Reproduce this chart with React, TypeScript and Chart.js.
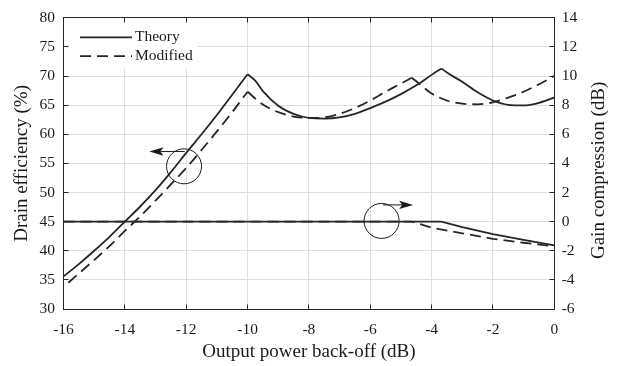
import React, { useEffect, useRef } from "react";
import { Chart, registerables } from "chart.js";

Chart.register(...registerables);

// ---------- data ----------
const xTitle = "Output power back-off (dB)";
const yTitle = "Drain efficiency (%)";
const y2Title = "Gain compression (dB)";
const legendLabels = ["Theory", "Modified"];

const xRange = [-16, 0, 2];
const effRange = [30, 80, 5];
const gainRange = [-6, 14, 2];

const effTheoryX = [-16, -15.5, -15, -14.5, -14, -13.5, -13, -12.5, -12, -11.5, -11, -10.5, -10, -9.75, -9.5, -9, -8.5, -8, -7.5, -7, -6.5, -6, -5.5, -5, -4.5, -4, -3.68, -3.5, -3, -2.5, -2, -1.5, -1, -0.5, 0];
const effTheoryY = [35.6, 37.7, 40.0, 42.4, 45.0, 47.6, 50.4, 53.5, 56.8, 60.0, 63.3, 66.8, 70.3, 69.2, 67.4, 64.9, 63.5, 62.8, 62.7, 62.9, 63.5, 64.5, 65.6, 66.9, 68.4, 70.2, 71.3, 70.6, 69.0, 67.2, 65.8, 65.05, 64.95, 65.4, 66.3];
const effTheoryPeaks = [-10, -3.68];

const effModX = [-15.84, -15.5, -15, -14.5, -14, -13.5, -13, -12.5, -12, -11.5, -11, -10.5, -10, -9.5, -9, -8.5, -8, -7.5, -7, -6.5, -6, -5.5, -5, -4.65, -4.5, -4, -3.5, -3, -2.5, -2, -1.5, -1, -0.5, 0];
const effModY = [34.5, 36.1, 38.4, 40.8, 43.4, 45.9, 48.6, 51.4, 54.2, 57.3, 60.5, 63.8, 67.3, 65.1, 63.8, 63.05, 62.8, 62.9, 63.5, 64.5, 65.8, 67.3, 68.7, 69.7, 69.1, 67.0, 65.8, 65.25, 65.15, 65.5, 66.3, 67.3, 68.6, 70.0];
const effModPeaks = [-10, -4.65];

const gainTheoryX = [-16, -3.68, -3, -2, -1, 0];
const gainTheoryY = [0, 0, -0.37, -0.85, -1.25, -1.63];

const gainModX = [-16, -4.65, -4, -3, -2, -1, 0];
const gainModY = [0, 0, -0.41, -0.8, -1.18, -1.45, -1.7];

// annotation marks (circle + arrow), in data coordinates
const noteAxis = ["y", "y2"];
const noteCircleX = [-12.07, -5.63];
const noteCircleY = [54.5, 0.05];
const noteArrowFromX = [-12.05, -5.58];
const noteArrowToX = [-13.2, -4.6];
const noteArrowY = [57.05, 1.15];

// ---------- styles ----------
const FONT = "'Liberation Serif', 'Times New Roman', serif";
const INK = "#262626";
const TEXT = "#1a1a1a";
const GRID = "#dedede";
const DASH = [11, 6];

const pts = (xs: number[], ys: number[]) => xs.map((x, i) => ({ x, y: ys[i] }));
// split a curve at its sharp peaks so each smooth piece can be interpolated on its own
const pieces = (xs: number[], ys: number[], breaks: number[]) => {
  const out: { x: number; y: number }[][] = [];
  let cur: { x: number; y: number }[] = [];
  xs.forEach((x, i) => {
    cur.push({ x, y: ys[i] });
    if (breaks.includes(x)) {
      out.push(cur);
      cur = [{ x, y: ys[i] }];
    }
  });
  out.push(cur);
  return out;
};
const range = (r: number[]) => {
  const out: number[] = [];
  for (let v = r[0]; v <= r[1] + 1e-9; v += r[2]) out.push(v);
  return out;
};
const crisp = (v: number) => Math.round(v - 0.5) + 0.5;

const framePlugin = {
  id: "frame",
  afterDatasetsDraw(chart: any) {
    const { ctx, chartArea: ca, scales } = chart;
    const sx = scales.x;
    const sy = scales.y;
    const sy2 = scales.y2;
    ctx.save();

    // legend
    ctx.fillStyle = "#fff";
    ctx.fillRect(ca.left + 1, ca.top + 1, 133, 50);
    ctx.strokeStyle = INK;
    ctx.lineWidth = 1.8;
    const legY = [ca.top + 19.5, ca.top + 38.3];
    legendLabels.forEach((label, i) => {
      ctx.setLineDash(i === 0 ? [] : DASH);
      ctx.beginPath();
      ctx.moveTo(ca.left + 16.5, legY[i]);
      ctx.lineTo(ca.left + 68.5, legY[i]);
      ctx.stroke();
      ctx.setLineDash([]);
      ctx.fillStyle = TEXT;
      ctx.font = `15.5px ${FONT}`;
      ctx.textBaseline = "middle";
      ctx.textAlign = "left";
      ctx.fillText(label, ca.left + 71.5, legY[i]);
    });

    // frame
    ctx.setLineDash([]);
    ctx.strokeStyle = INK;
    ctx.lineWidth = 1;
    const L = crisp(ca.left), R = crisp(ca.right), T = crisp(ca.top), B = crisp(ca.bottom);
    ctx.strokeRect(L, T, R - L, B - T);

    // inward ticks
    const tl = 5;
    ctx.beginPath();
    range(xRange).forEach((v) => {
      const p = crisp(sx.getPixelForValue(v));
      ctx.moveTo(p, B); ctx.lineTo(p, B - tl);
      ctx.moveTo(p, T); ctx.lineTo(p, T + tl);
    });
    range(effRange).forEach((v) => {
      const p = crisp(sy.getPixelForValue(v));
      ctx.moveTo(L, p); ctx.lineTo(L + tl, p);
    });
    range(gainRange).forEach((v) => {
      const p = crisp(sy2.getPixelForValue(v));
      ctx.moveTo(R, p); ctx.lineTo(R - tl, p);
    });
    ctx.stroke();

    // annotations
    ctx.strokeStyle = TEXT;
    ctx.fillStyle = TEXT;
    ctx.lineWidth = 1;
    noteAxis.forEach((ax, i) => {
      const scale = scales[ax];
      const cx = sx.getPixelForValue(noteCircleX[i]);
      const cy = scale.getPixelForValue(noteCircleY[i]);
      ctx.beginPath();
      ctx.arc(cx, cy, 17.5, 0, Math.PI * 2);
      ctx.stroke();
      const fx = sx.getPixelForValue(noteArrowFromX[i]);
      const tx = sx.getPixelForValue(noteArrowToX[i]);
      const ay = scale.getPixelForValue(noteArrowY[i]);
      const dir = tx > fx ? 1 : -1;
      const len = 14, hw = 4.2, notch = 3;
      ctx.beginPath();
      ctx.moveTo(fx, ay);
      ctx.lineTo(tx - dir * (len - notch), ay);
      ctx.stroke();
      ctx.beginPath();
      ctx.moveTo(tx, ay);
      ctx.lineTo(tx - dir * len, ay - hw);
      ctx.lineTo(tx - dir * (len - notch), ay);
      ctx.lineTo(tx - dir * len, ay + hw);
      ctx.closePath();
      ctx.fill();
    });

    // right axis title, reading bottom-to-top
    ctx.translate(599.5, (ca.top + ca.bottom) / 2 + 7);
    ctx.rotate(-Math.PI / 2);
    ctx.font = `19px ${FONT}`;
    ctx.fillStyle = TEXT;
    ctx.textAlign = "center";
    ctx.textBaseline = "middle";
    ctx.fillText(y2Title, 0, 0);

    ctx.restore();
  },
};

export default function App() {
  const ref = useRef<HTMLCanvasElement | null>(null);

  useEffect(() => {
    if (!ref.current) return;
    const lineBase = {
      borderColor: INK,
      borderWidth: 1.8,
      pointRadius: 0,
      fill: false,
      tension: 0,
    };
    const smooth = { cubicInterpolationMode: "monotone" };
    const tickFont = { family: FONT, size: 15.5 };
    const titleFont = { family: FONT, size: 19 };
    const datasets: any[] = [];
    pieces(effTheoryX, effTheoryY, effTheoryPeaks).forEach((d, k) =>
      datasets.push({ ...lineBase, ...smooth, label: `Theory ${k}`, data: d, yAxisID: "y" })
    );
    datasets.push({ ...lineBase, label: "Theory gain", data: pts(gainTheoryX, gainTheoryY), yAxisID: "y2" });
    pieces(effModX, effModY, effModPeaks).forEach((d, k) =>
      datasets.push({ ...lineBase, ...smooth, label: `Modified ${k}`, data: d, yAxisID: "y", borderDash: DASH })
    );
    datasets.push({ ...lineBase, label: "Modified gain", data: pts(gainModX, gainModY), yAxisID: "y2", borderDash: DASH });

    const chart = new Chart(ref.current, {
      type: "line",
      data: { datasets },
      options: {
        responsive: false,
        devicePixelRatio: 1,
        animation: false,
        layout: { padding: { top: 7.3, left: 0, right: 0, bottom: 0 } },
        plugins: { legend: { display: false }, tooltip: { enabled: false } },
        scales: {
          x: {
            type: "linear",
            min: xRange[0],
            max: xRange[1],
            ticks: { stepSize: xRange[2], font: tickFont, color: TEXT, padding: 11.5, maxRotation: 0 },
            grid: { color: GRID, drawTicks: false, lineWidth: 1 },
            border: { display: false },
            title: { display: true, text: xTitle, font: titleFont, color: TEXT, padding: { top: 0, bottom: 3 } },
            afterFit: (s: any) => { s.height = 57; },
          },
          y: {
            type: "linear",
            position: "left",
            min: effRange[0],
            max: effRange[1],
            ticks: { stepSize: effRange[2], font: tickFont, color: TEXT, padding: 8.5 },
            grid: { color: GRID, drawTicks: false, lineWidth: 1 },
            border: { display: false },
            title: { display: true, text: yTitle, font: titleFont, color: TEXT, padding: { top: 10.2, bottom: 0 } },
            afterFit: (s: any) => { s.width = 63.5; },
          },
          y2: {
            type: "linear",
            position: "right",
            min: gainRange[0],
            max: gainRange[1],
            ticks: { stepSize: gainRange[2], font: tickFont, color: TEXT, padding: 7.4 },
            grid: { drawOnChartArea: false, drawTicks: false },
            border: { display: false },
            title: { display: false, text: y2Title },
            afterFit: (s: any) => { s.width = 71.7; },
          },
        },
      },
      plugins: [framePlugin],
    } as any);
    return () => chart.destroy();
  }, []);

  return (
    <div style={{ position: "absolute", left: 0, top: 0, width: 626, height: 366, background: "#fff" }}>
      <canvas ref={ref} width={626} height={366} style={{ display: "block" }} />
    </div>
  );
}
